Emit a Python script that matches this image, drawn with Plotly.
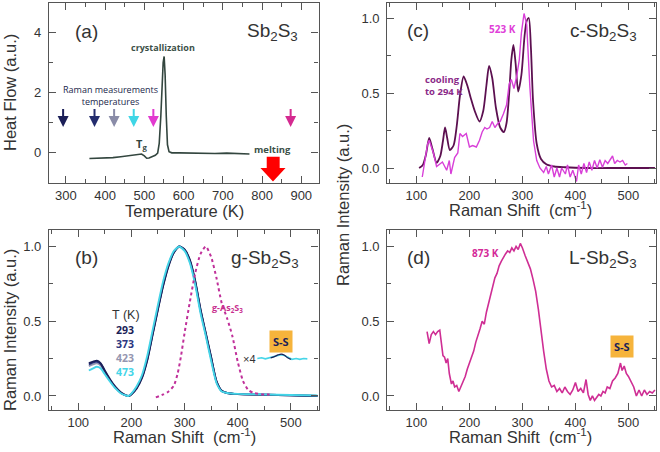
import plotly.graph_objects as go

W, H = 660, 452

# ---------------- data ----------------
# (a) DSC trace
dsc_temperature_K = [360, 380, 400, 420, 440, 460, 475, 485, 493, 500, 506, 512, 520, 528, 534,
                     538, 542, 545, 548, 550.5, 553, 556, 559, 563, 570, 590, 620, 650, 680, 710, 740, 768]
dsc_heat_flow = [-0.21, -0.2, -0.2, -0.18, -0.15, -0.12, -0.09, -0.07, -0.06, -0.12, -0.2, -0.19, -0.15, -0.1, -0.03,
                 0.3, 1.2, 2.2, 3.0, 3.21, 2.6, 1.2, 0.25, 0.02, -0.02, -0.02, -0.03, -0.02, -0.04, -0.03, -0.04, -0.06]
raman_temps_K = [293, 373, 423, 473, 523, 873]
raman_arrow_colors = ["#1b1f58", "#232c6e", "#8a8ca8", "#3fd6e6", "#e23ad0", "#d42a90"]
melting_T = 828

# (b) glassy Sb2S3 at several temperatures
glass_shift = [120, 128, 135, 142, 150, 160, 170, 180, 190, 195, 200, 210, 220, 230, 240, 250, 260,
               270, 280, 290, 300, 310, 320, 330, 340, 350, 360, 370, 380, 400, 450, 500, 550]
glass_293 = [0.22, 0.23, 0.236, 0.22, 0.17, 0.11, 0.06, 0.025, 0.004, 0.0, 0.01, 0.05, 0.12, 0.24, 0.41, 0.58, 0.74,
             0.87, 0.96, 1.0, 0.98, 0.91, 0.77, 0.58, 0.42, 0.26, 0.1, 0.035, 0.02, 0.012, 0.008, 0.005, 0.0]
glass_373 = [0.21, 0.225, 0.228, 0.215, 0.165, 0.105, 0.057, 0.022, 0.004, 0.0, 0.012, 0.055, 0.125, 0.245, 0.415, 0.585, 0.745,
             0.875, 0.962, 1.0, 0.978, 0.905, 0.765, 0.575, 0.415, 0.255, 0.098, 0.033, 0.02, 0.012, 0.008, 0.005, 0.0]
glass_423 = [0.2, 0.212, 0.218, 0.205, 0.16, 0.1, 0.055, 0.02, 0.003, 0.0, 0.013, 0.058, 0.13, 0.25, 0.42, 0.59, 0.75,
             0.88, 0.965, 1.0, 0.975, 0.9, 0.76, 0.57, 0.41, 0.25, 0.095, 0.032, 0.02, 0.012, 0.008, 0.005, 0.0]
glass_473 = [0.17, 0.185, 0.195, 0.185, 0.145, 0.095, 0.05, 0.018, 0.003, 0.0, 0.016, 0.065, 0.14, 0.27, 0.44, 0.61, 0.77,
             0.89, 0.97, 1.0, 0.97, 0.89, 0.745, 0.555, 0.4, 0.235, 0.088, 0.03, 0.02, 0.014, 0.01, 0.006, 0.003]
glass_labels = ["293", "373", "423", "473"]
glass_colors = ["#1b1f58", "#2b3680", "#9496b0", "#45d5e8"]

as2s3_shift = [246, 260, 270, 280, 287, 293, 300, 310, 320, 330, 340, 350, 360, 370, 380, 390, 400, 410, 420, 430, 450, 460]
as2s3_int = [-0.01, 0.01, 0.03, 0.07, 0.15, 0.26, 0.42, 0.63, 0.82, 0.95, 1.0, 0.93, 0.79, 0.62, 0.52, 0.4, 0.23, 0.1,
             0.04, 0.02, 0.01, 0.01]

inset_shift = [437, 445, 452, 460, 467, 474, 481, 488, 495, 502, 510, 517, 524, 531]
inset_473 = [0.25, 0.255, 0.248, 0.255, 0.26, 0.27, 0.275, 0.27, 0.255, 0.245, 0.25, 0.245, 0.25, 0.248]
inset_dark_shift = [462, 470, 476, 482, 488, 494, 500]
inset_dark = [0.255, 0.265, 0.275, 0.28, 0.272, 0.255, 0.245]

# (c) crystalline Sb2S3
cool_shift = [105, 112, 118, 124, 130, 138, 145, 150, 154, 158, 163, 170, 176, 182, 189, 196, 203, 210, 219, 226,
              232, 237, 243, 250, 258, 265, 270, 275, 279, 283, 287, 292, 298, 304, 308, 312, 316, 320, 327, 335,
              345, 360, 380, 420, 480, 550]
cool_294 = [0.0, 0.02, 0.09, 0.2, 0.13, 0.035, 0.08, 0.18, 0.27, 0.2, 0.12, 0.15, 0.28, 0.48, 0.61, 0.55, 0.46, 0.38,
            0.31, 0.38, 0.55, 0.68, 0.6, 0.4, 0.27, 0.24, 0.3, 0.5, 0.72, 0.82, 0.7, 0.51, 0.62, 0.88, 0.98, 1.0, 0.8,
            0.45, 0.16, 0.06, 0.025, 0.01, 0.005, 0.0, 0.0, 0.0]
hot_shift = [111, 121, 124, 132, 138, 149, 157, 162, 165, 172, 178, 182, 187, 194, 200, 206, 213, 219, 224, 229, 233,
             238, 243, 248, 254, 258, 264, 270, 275, 279, 284, 289, 294, 298, 303, 308, 314, 321, 327, 333, 340, 345,
             349, 355, 360, 365, 370, 374, 381, 385, 390, 395, 402, 406, 411, 416, 421, 426, 431, 436, 441, 446, 451,
             456, 461, 466, 470, 474, 479, 484, 489, 494, 498]
hot_523 = [-0.06, 0.16, 0.185, 0.1, 0.01, 0.04, -0.015, 0.05, -0.04, 0.07, 0.1, 0.23, 0.21, 0.23, 0.14, 0.15, 0.14,
           0.185, 0.24, 0.27, 0.26, 0.27, 0.31, 0.27, 0.3, 0.31, 0.36, 0.42, 0.56, 0.59, 0.53, 0.61, 0.72, 0.9, 1.03,
           0.96, 0.54, 0.18, 0.05, 0.0, -0.03, 0.01, -0.04, 0.02, -0.06, 0.0, -0.06, 0.0, -0.04, 0.02, -0.06, -0.015,
           -0.09, 0.02, -0.04, 0.03, -0.03, 0.04, -0.015, 0.05, 0.0, 0.055, 0.005, 0.05, 0.03, 0.06, 0.08, 0.03, 0.05,
           0.04, 0.05, 0.02, 0.03]

# (d) liquid Sb2S3 at 873 K
liq_shift = [120, 124, 128, 132, 136, 140, 144, 147, 150, 153, 156, 159, 162, 166, 169, 172, 176, 180, 184, 188, 192,
             196, 200, 204, 208, 212, 216, 220, 224, 228, 232, 236, 240, 244, 248, 252, 256, 260, 264, 268, 272, 276,
             280, 284, 288, 292, 296, 300, 305, 310, 315, 320, 325, 330, 335, 340, 345, 350, 355, 360, 365, 370, 375,
             380, 385, 390, 395, 400, 405, 410, 415, 420, 424, 428, 432, 436, 440, 444, 448, 452, 456, 460, 465, 470,
             475, 480, 485, 488, 492, 496, 500, 505, 510, 515, 520, 525, 530, 535, 540, 545, 550]
liq_873 = [0.43, 0.35, 0.41, 0.43, 0.41, 0.43, 0.44, 0.36, 0.27, 0.26, 0.22, 0.25, 0.15, 0.08, 0.1, 0.06, 0.07, 0.03,
           0.06, 0.09, 0.13, 0.18, 0.22, 0.27, 0.3, 0.36, 0.4, 0.45, 0.5, 0.48, 0.56, 0.62, 0.68, 0.73, 0.79, 0.82,
           0.87, 0.9, 0.93, 0.95, 0.97, 0.96, 0.99, 0.97, 1.0, 0.98, 1.02, 0.99, 0.94, 0.9, 0.85, 0.78, 0.7, 0.58,
           0.43, 0.3, 0.18, 0.1, 0.06, 0.07, 0.03, 0.05, 0.02, 0.06, 0.03, 0.01, 0.04, 0.09, 0.03, 0.05, 0.02, 0.11,
           0.01, -0.03, 0.0, -0.03, -0.01, 0.01, 0.0, 0.03, 0.02, 0.06, 0.05, 0.1, 0.12, 0.15, 0.22, 0.17, 0.2, 0.15,
           0.13, 0.09, 0.06, 0.0, 0.04, 0.0, 0.04, 0.01, 0.03, 0.02, 0.04]

# ---------------- style ----------------
FRAME = "#555555"
TXT = "#333333"
MAIN_FONT = "Liberation Sans, Arial, sans-serif"
LABEL_FONT = "Open Sans, sans-serif"


def P(xpx, ypx):
    return xpx / W, 1 - ypx / H


def axis(dom, rng, dtick, minor_dtick, anchor, fmt=None, standoff=None):
    d = dict(domain=dom, range=rng, anchor=anchor, dtick=dtick, tick0=0,
             showline=True, linecolor=FRAME, linewidth=1.2, mirror="ticks",
             ticks="inside", ticklen=7, tickwidth=1.2, tickcolor=FRAME,
             showgrid=False, zeroline=False,
             tickfont=dict(family=MAIN_FONT, size=13, color=TXT),
             minor=dict(ticks="inside", ticklen=4, tickwidth=1.2, tickcolor=FRAME, dtick=minor_dtick, showgrid=False))
    if standoff is not None:
        d["ticklabelstandoff"] = standoff
    if fmt:
        d["tickformat"] = fmt
    return d


XL = [49 / W, 318.5 / W]
XR = [387.3 / W, 656 / W]
YT = [1 - 183 / H, 1 - 3 / H]
YB = [1 - 410 / H, 1 - 230 / H]
RAMAN_X = [45, 552]

fig = go.Figure()

# (a)
fig.add_trace(go.Scatter(x=dsc_temperature_K, y=dsc_heat_flow, mode="lines",
                         line=dict(color="#33463f", width=1.6), xaxis="x", yaxis="y"))

# (b)
order = [2, 1, 0, 3]
for i in order:
    ys = [glass_293, glass_373, glass_423, glass_473][i]
    fig.add_trace(go.Scatter(x=glass_shift, y=ys, mode="lines", line=dict(color=glass_colors[i], width=1.9, shape="spline", smoothing=0.6),
                             xaxis="x3", yaxis="y3"))
fig.add_trace(go.Scatter(x=as2s3_shift, y=as2s3_int, mode="lines",
                         line=dict(color="#c0309a", width=2, dash="dot", shape="spline", smoothing=0.6), xaxis="x3", yaxis="y3"))
fig.add_trace(go.Scatter(x=inset_shift, y=inset_473, mode="lines", line=dict(color="#45d5e8", width=1.6),
                         xaxis="x3", yaxis="y3"))
fig.add_trace(go.Scatter(x=inset_dark_shift, y=inset_dark, mode="lines", line=dict(color="#1b1f58", width=1.2, shape="spline"),
                         xaxis="x3", yaxis="y3"))

# (c)
fig.add_trace(go.Scatter(x=cool_shift, y=cool_294, mode="lines",
                         line=dict(color="#5c1050", width=1.8, shape="spline", smoothing=0.7), xaxis="x2", yaxis="y2"))
fig.add_trace(go.Scatter(x=hot_shift, y=hot_523, mode="lines", line=dict(color="#d83fd8", width=1.4),
                         xaxis="x2", yaxis="y2"))

# (d)
fig.add_trace(go.Scatter(x=liq_shift, y=liq_873, mode="lines", line=dict(color="#cf2e94", width=1.6),
                         xaxis="x4", yaxis="y4"))

ann = []


def text(xpx, ypx, s, size, color=TXT, family=MAIN_FONT, bold=False, **kw):
    x, y = P(xpx, ypx)
    if bold:
        s = "<b>" + s + "</b>"
    d = dict(x=x, y=y, xref="paper", yref="paper", text=s, showarrow=False,
             font=dict(family=family, size=size, color=color), xanchor="center", yanchor="middle")
    d.update(kw)
    ann.append(d)


# axis titles
text(10, 93, "Heat Flow (a.u.)", 16.5, textangle=-90)
text(184, 211, "Temperature (K)", 16.5)
text(10, 330, "Raman Intensity (a.u.)", 16.5, textangle=-90)
text(184, 436, "Raman Shift  (cm<sup>-1</sup>)", 16.5)
text(520, 209, "Raman Shift  (cm<sup>-1</sup>)", 16.5)
text(520, 436, "Raman Shift  (cm<sup>-1</sup>)", 16.5)
text(343, 205, "Raman Intensity (a.u.)", 16.5, textangle=-90)

# panel (a)
text(86.7, 31.5, "(a)", 19)
text(272.7, 32, "Sb<sub>2</sub>S<sub>3</sub>", 19)
text(163, 47, "crystallization", 9, color="#3c5048", family=LABEL_FONT, bold=True)
text(110, 95, "Raman measurements<br>temperatures", 9, color="#1a1f4a", family=LABEL_FONT)
text(141, 144, "T<sub>g</sub>", 11, color="#33463f", family=LABEL_FONT, bold=True)
text(272, 149, "melting", 9.5, color="#3c5048", family=LABEL_FONT, bold=True)
for t, c in zip(raman_temps_K, raman_arrow_colors):
    ann.append(dict(x=t, y=0.85, ax=t, ay=1.5, xref="x", yref="y", axref="x", ayref="y", text="",
                    showarrow=True, arrowhead=2, arrowsize=1.1, arrowwidth=2, arrowcolor=c))

# panel (b)
text(86.2, 257.7, "(b)", 19)
text(265, 259, "g-Sb<sub>2</sub>S<sub>3</sub>", 19)
text(125.5, 315.3, "T (K)", 12.5)
for lab, col, ypx in zip(glass_labels, glass_colors, [330, 343.7, 358, 371.7]):
    text(125.3, ypx, lab, 10.5, color=col, family=LABEL_FONT, bold=True)
text(227.5, 307.7, "g-As<sub>2</sub>S<sub>3</sub>", 9, color="#c8308f", family=LABEL_FONT, bold=True)
text(249, 358.7, "×4", 11)
text(281, 341.5, "S-S", 11, color="#1b1f58", family=LABEL_FONT, bold=True, bgcolor="#f6b43c", borderpad=3)

# panel (c)
text(417.5, 30.5, "(c)", 19)
text(603, 32, "c-Sb<sub>2</sub>S<sub>3</sub>", 19)
text(502.5, 29, "523 K", 10, color="#e040d8", family=LABEL_FONT, bold=True)
text(423, 86, "cooling<br>to 294 K", 9.5, color="#8b2a88", family=LABEL_FONT, bold=True, xanchor="left", align="left")

# panel (d)
text(418, 257.7, "(d)", 19)
text(603, 259, "L-Sb<sub>2</sub>S<sub>3</sub>", 19)
text(485, 253.3, "873 K", 10, color="#d42a98", family=LABEL_FONT, bold=True)
text(622, 346.5, "S-S", 11, color="#1b1f58", family=LABEL_FONT, bold=True, bgcolor="#f6b43c", borderpad=3)

# big red melting arrow (decoration)
mT = melting_T
arrow_path = (f"M {mT-16},-0.15 L {mT+17},-0.15 L {mT+17},-0.53 L {mT+32},-0.53 L {mT},-0.98 "
              f"L {mT-32},-0.53 L {mT-16},-0.53 Z")
shapes = [dict(type="path", path=arrow_path, xref="x", yref="y", fillcolor="#ff0000", line=dict(width=0))]

fig.update_layout(
    width=W, height=H, margin=dict(l=0, r=0, t=0, b=0),
    paper_bgcolor="white", plot_bgcolor="white", showlegend=False,
    xaxis=axis(XL, [257, 944], 100, 50, "y"),
    yaxis=axis(YT, [-1.03, 5.0], 2, 1, "x", standoff=4),
    xaxis2=axis(XR, RAMAN_X, 100, 50, "y2"),
    yaxis2=axis(YT, [-0.1, 1.1], 0.5, 0.25, "x2", fmt=".1f", standoff=4),
    xaxis3=axis(XL, RAMAN_X, 100, 50, "y3"),
    yaxis3=axis(YB, [-0.094, 1.11], 0.5, 0.25, "x3", fmt=".1f", standoff=4),
    xaxis4=axis(XR, RAMAN_X, 100, 50, "y4"),
    yaxis4=axis(YB, [-0.094, 1.11], 0.5, 0.25, "x4", fmt=".1f", standoff=4),
    annotations=ann, shapes=shapes,
)

fig.write_html("out.html", config={"displayModeBar": False},
               post_script="document.body.style.margin='0px';document.body.style.overflow='hidden';")
